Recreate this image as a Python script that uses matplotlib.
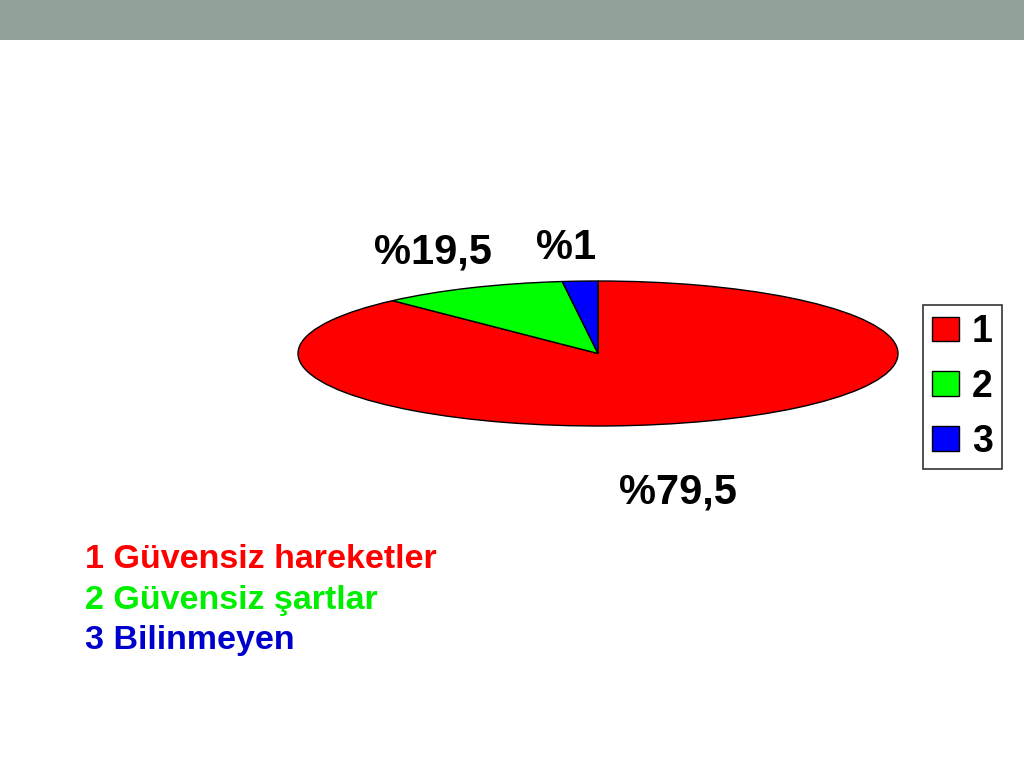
import matplotlib.pyplot as plt
from matplotlib.patches import Rectangle

# slice shares as drawn (clockwise from top), and the printed labels
shares = [88.0, 10.1, 1.9]
pct_labels = ['%79,5', '%19,5', '%1']
legend_keys = ['1', '2', '3']
colors = ['#FF0000', '#00FF00', '#0000FF']
notes = ['1 Güvensiz hareketler', '2 Güvensiz şartlar', '3 Bilinmeyen']
note_colors = ['#FF0000', '#00EE00', '#0000CC']

plt.rcParams['font.family'] = ['Liberation Sans', 'DejaVu Sans']

W, H = 1024, 768
fig = plt.figure(figsize=(W / 100, H / 100), dpi=100)

# grey band at top of slide
fig.patches.append(Rectangle((0, 1 - 40 / H), 1, 40 / H, transform=fig.transFigure,
                             facecolor='#92A199', edgecolor='none', zorder=0))

# pie squashed to an ellipse: axes box = ellipse bbox
ax = fig.add_axes([298 / W, 1 - 426 / H, 600 / W, 145 / H])
wedges, _ = ax.pie(shares, colors=colors, startangle=90, counterclock=False,
                   wedgeprops=dict(edgecolor='black', linewidth=1))
ax.set_aspect('auto')
ax.set_xlim(-1, 1)
ax.set_ylim(-1, 1)
ax.axis('off')

# percentage labels
label_pos = [(678, 492), (433, 253), (566, 248)]
for txt, (x, y) in zip(pct_labels, label_pos):
    fig.text(x / W, 1 - y / H, txt, ha='center', va='center',
             fontsize=30, fontweight='bold', color='black')

# legend
leg = fig.legend(wedges, legend_keys, loc='center',
                 bbox_to_anchor=(962.5 / W, 1 - 387 / H),
                 prop={'size': 27, 'weight': 'bold'},
                 frameon=True, fancybox=False, edgecolor='black',
                 handlelength=0.7, handleheight=0.64, handletextpad=0.35,
                 labelspacing=0.5, borderpad=0.25, borderaxespad=0)
leg.get_frame().set_linewidth(1.2)

# category notes
for i, (txt, c) in enumerate(zip(notes, note_colors)):
    fig.text(85 / W, 1 - (559 + 41 * i) / H, txt, ha='left', va='center',
             fontsize=24.5, fontweight='bold', color=c)

fig.savefig('out.png', dpi=100)
